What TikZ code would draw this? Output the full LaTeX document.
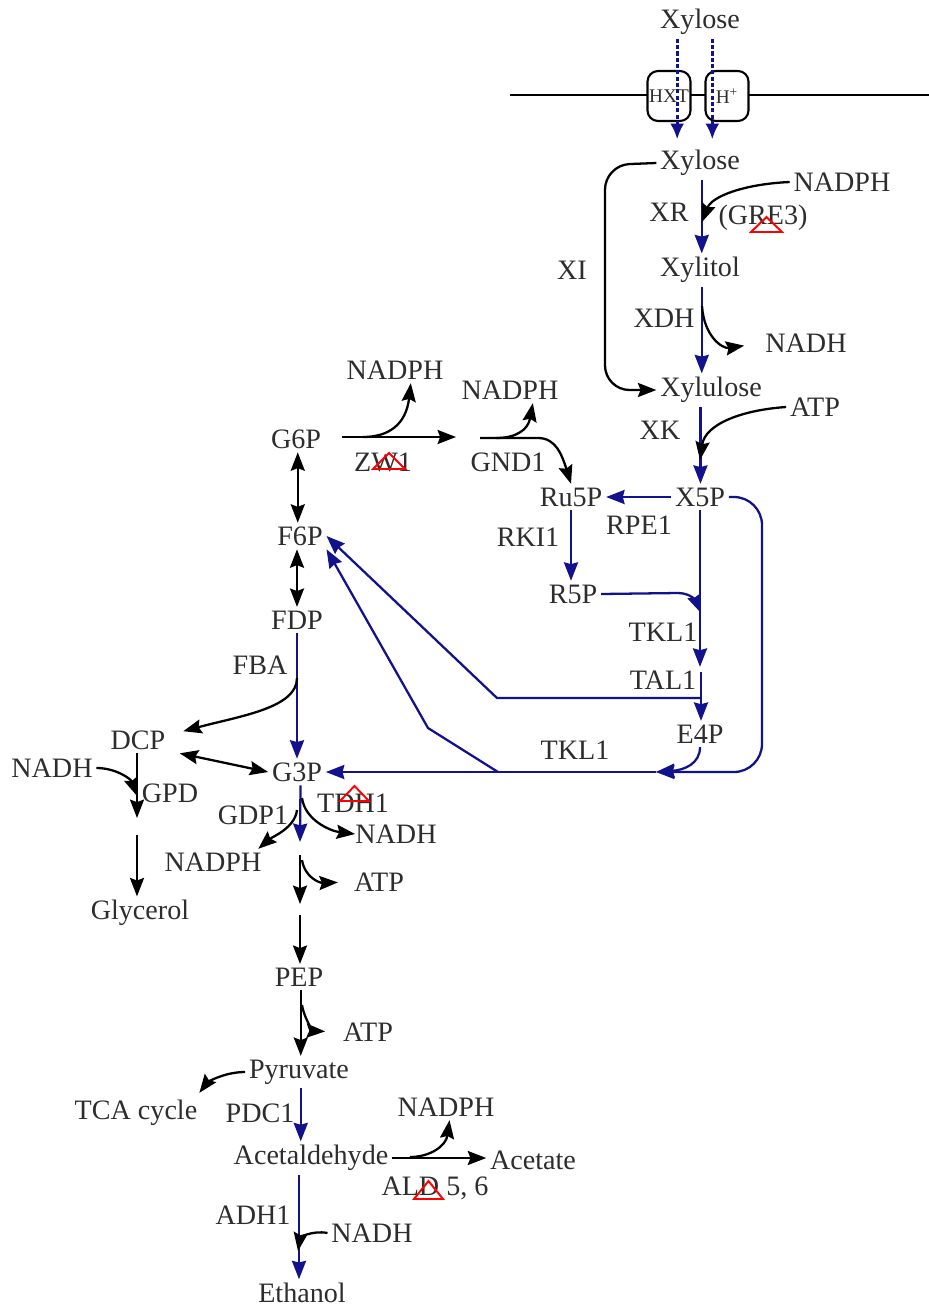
\documentclass[tikz,border=0pt]{standalone}
\usepackage{fontspec}
\setmainfont{Liberation Serif}
\usetikzlibrary{arrows.meta}
\definecolor{pathblue}{RGB}{18,18,140}
\definecolor{labgray}{RGB}{45,45,45}
\tikzset{
  met/.style={inner sep=2pt, text=labgray, font=\fontsize{16}{18}\selectfont},
  enz/.style={met},
  blk/.style={draw=black, line width=1.3pt, -{Stealth[length=10.5pt,width=8pt,inset=1.5pt]}},
  blu/.style={draw=pathblue, line width=1.3pt, -{Stealth[length=10.5pt,width=8pt,inset=1pt]}},
  dbl/.style={blk, {Stealth[length=10.5pt,width=8pt,inset=1.5pt]}-{Stealth[length=10.5pt,width=8pt,inset=1.5pt]}},
  dashblu/.style={draw=pathblue, line width=1.6pt, dash pattern=on 2.4pt off 1.2pt, -{Latex[length=9pt,width=8pt]}},
  kd/.style={draw=red, line width=1.1pt, line join=miter},
  porter/.style={draw, fill=white, rounded corners=6pt, line width=1.2pt, minimum width=0.86cm, minimum height=1cm, inner sep=0pt, font=\fontsize{11}{12}\selectfont, text=labgray}
}
\begin{document}
\begin{tikzpicture}[x=0.02cm,y=-0.02cm]
\useasboundingbox (0,0) rectangle (929,1309);
% membrane and transporters
\draw[line width=0.9pt] (510,95) -- (929,95);
\node[porter] (hxt) at (669,96) {HXT};
\node[porter] (hplus) at (727,96) {H\textsuperscript{+}};
% metabolites
\node[met] (xyl0) at (700,22) {Xylose};
\node[met] (xyl1) at (700,163) {Xylose};
\node[met] (xylitol) at (700,270) {Xylitol};
\node[met] (xylu) at (711,390) {Xylulose};
\node[met] (x5p) at (700,497) {X5P};
\node[met] (ru5p) at (571,497) {Ru5P};
\node[met] (r5p) at (573,594) {R5P};
\node[met] (e4p) at (700,734) {E4P};
\node[met] (g6p) at (296,439) {G6P};
\node[met] (f6p) at (300,536) {F6P};
\node[met] (fdp) at (297,620) {FDP};
\node[met] (dcp) at (138,740) {DCP};
\node[met] (g3p) at (297,772) {G3P};
\node[met] (glycerol) at (140,913) {Glycerol};
\node[met] (pep) at (299,977) {PEP};
\node[met] (pyr) at (299,1072) {Pyruvate};
\node[met] (tca) at (136,1113) {TCA cycle};
\node[met] (acald) at (311,1158) {Acetaldehyde};
\node[met] (acetate) at (533,1160) {Acetate};
\node[met] (etoh) at (302,1293) {Ethanol};
% cofactors
\node[met] (nadph1) at (842,182) {NADPH};
\node[met] (nadh1) at (806,343) {NADH};
\node[met] (atp1) at (815,407) {ATP};
\node[met] (nadph2) at (395,370) {NADPH};
\node[met] (nadph3) at (510,390) {NADPH};
\node[met] (nadh2) at (52,768) {NADH};
\node[met] (nadh3) at (396,834) {NADH};
\node[met] (nadph4) at (213,862) {NADPH};
\node[met] (atp2) at (379,882) {ATP};
\node[met] (atp3) at (368,1032) {ATP};
\node[met] (nadph5) at (446,1107) {NADPH};
\node[met] (nadh4) at (372,1233) {NADH};
% enzymes
\node[enz] (xr) at (669,212) {XR};
\node[enz] (gre3) at (763,218) {(GRE3)};
\node[enz] (xi) at (572,270) {XI};
\node[enz] (xdh) at (664,318) {XDH};
\node[enz] (xk) at (660,430) {XK};
\node[enz] (rpe1) at (639,525) {RPE1};
\node[enz] (rki1) at (528,537) {RKI1};
\node[enz] (tkl1a) at (663,632) {TKL1};
\node[enz] (tal1) at (663,680) {TAL1};
\node[enz] (tkl1b) at (575,750) {TKL1};
\node[enz] (zwf1) at (383,462) {ZW1};
\node[enz] (gnd1) at (508,462) {GND1};
\node[enz] (fba) at (260,665) {FBA};
\node[enz] (gpd) at (170,793) {GPD};
\node[enz] (gdp1) at (253,815) {GDP1};
\node[enz] (tdh1) at (353,803) {TDH1};
\node[enz] (pdc1) at (260,1113) {PDC1};
\node[enz] (ald) at (435,1188) {ALD 5, 6};
\node[enz] (adh1) at (253,1215) {ADH1};
% junctions
\coordinate (xrj) at (702,222);
\coordinate (xdhj) at (702,306);
\coordinate (xkj) at (700,460);
\coordinate (tklj) at (701,613);
\coordinate (talj) at (701,672);
\coordinate (talb) at (701,698);
\coordinate (g3pj) at (656,772);
\coordinate (tklb) at (498,772);
\coordinate (zwfstart) at (342,437);
\coordinate (zwfend) at (456,437);
\coordinate (gndj) at (480,438);
\coordinate (gpdj) at (137,796);
\coordinate (gpdend) at (137,818);
\coordinate (glyst) at (137,835);
\coordinate (g3pb) at (300,842);
\coordinate (lowst) at (300,855);
\coordinate (lowend) at (300,904);
\coordinate (pepst) at (300,915);
\coordinate (adhj) at (298,1251);
% transport
\draw[dashblu] ([xshift=-13pt]xyl0.south) -- ([xshift=-13pt,yshift=4pt]xyl0.south |- xyl1.north);
\draw[dashblu] ([xshift=7pt]xyl0.south) -- ([xshift=7pt,yshift=4pt]xyl0.south |- xyl1.north);
% xylose branch
\draw[blu] ([xshift=1pt]xyl1.south) -- ([xshift=1pt]xyl1.south |- xylitol.north);
\draw[blk] (nadph1.west) .. controls (745,184) and (712,196) .. (xrj);
\draw[blk, rounded corners=14pt] (xyl1.west) -- (605,165) -- (605,390) -- (xylu.west);
\draw[blu] ([xshift=1pt]xylitol.south) -- ([xshift=1pt]xylitol.south |- xylu.north);
\draw[blk, shorten >=10pt] (xdhj) .. controls (704,336) and (722,349) .. (nadh1.west);
\draw[blu] ([xshift=-6pt]xylu.south) -- ([xshift=-6pt]xylu.south |- x5p.north);
\draw[blk] (atp1.west) .. controls (742,410) and (705,424) .. (xkj);
% pentose phosphate
\draw[blu] (x5p.west) -- (ru5p.east);
\draw[blu] (ru5p.south) -- (ru5p.south |- r5p.north);
\draw[blu] (x5p.south) -- (x5p.south |- tal1.north);
\draw[blu] (r5p.east) -- (678,593) .. controls (692,593) and (697,603) .. (tklj);
\draw[blu] (talj) -- (talj |- e4p.north);
\draw[blu] (talb) -- (497,698) -- (f6p.east);
\draw[blu, rounded corners=16pt] (x5p.east) -- (762,497) -- (762,772) -- (g3pj);
\draw[blu] (e4p.south) .. controls (700,764) and (684,770) .. (g3pj);
\draw[blu] (g3pj) -- (g3p.east);
\draw[blu] (tklb) -- (428,728) -- (f6p.south east);
% oxidative branch
\draw[blk] (zwfstart) -- (zwfend);
\draw[blk] (363,437) .. controls (388,437) and (406,425) .. ([xshift=9pt]nadph2.south);
\draw[blk] (gndj) -- (538,438) .. controls (556,438) and (562,455) .. (ru5p.north);
\draw[blk] (496,438) .. controls (516,438) and (528,430) .. ([xshift=13pt]nadph3.south);
% glycolysis
\draw[dbl] ([xshift=1pt]g6p.south) -- ([xshift=1pt]g6p.south |- f6p.north);
\draw[dbl] (fdp.north |- f6p.south) -- (fdp.north);
\draw[blu] (fdp.south) -- (g3p.north);
\draw[blk] (297,678) .. controls (297,708) and (240,716) .. ([xshift=8pt,yshift=5pt]dcp.east);
\draw[dbl] ([xshift=6pt]dcp.south east) -- (g3p.west);
\draw[blk] (nadh2.east) .. controls (116,768) and (131,779) .. (gpdj);
\draw[blk] (dcp.south -| gpdj) -- (gpdend);
\draw[blk] (glyst) -- (glyst |- glycerol.north);
\draw[blu] ([xshift=2pt]g3p.south) -- (g3pb);
\draw[blk] (297,810) .. controls (295,828) and (272,837) .. ([xshift=-4pt]nadph4.north east);
\draw[blk] (302,798) .. controls (305,820) and (330,831) .. ([xshift=2pt]nadh3.west);
\draw[blk] (lowst) -- (lowend);
\draw[blk, shorten >=7pt] (302,860) .. controls (305,878) and (320,883) .. (atp2.west);
\draw[blk] (pepst) -- (pepst |- pep.north);
\draw[blk] ([xshift=1pt]pep.south) -- ([xshift=1pt]pep.south |- pyr.north);
\draw[blk, shorten >=8pt] (302,1005) .. controls (305,1022) and (315,1031) .. (atp3.west);
\draw[blk] (pyr.west) .. controls (222,1072) and (206,1084) .. ([xshift=-1pt,yshift=2pt]tca.north east);
% fermentation
\draw[blu] ([xshift=1pt]pyr.south) -- ([xshift=1pt]pyr.south |- acald.north);
\draw[blk] (acald.east) -- (acald.east -| acetate.west);
\draw[blk] (410,1157) .. controls (430,1157) and (446,1146) .. ([xshift=2pt]nadph5.south);
\draw[blu] (pyr.south |- acald.south) -- (pyr.south |- etoh.north);
\draw[blk] (nadh4.west) .. controls (312,1230) and (300,1238) .. (adhj);
% knock-down marks
\draw[kd] (751,232) -- ++(31,0) -- ++(-15.5,-15) -- cycle;
\draw[kd] (373,469) -- ++(32,0) -- ++(-16,-16) -- cycle;
\draw[kd] (340,801) -- ++(29,0) -- ++(-14.5,-15) -- cycle;
\draw[kd] (414,1199) -- ++(29,0) -- ++(-14.5,-18) -- cycle;
\end{tikzpicture}
\end{document}
